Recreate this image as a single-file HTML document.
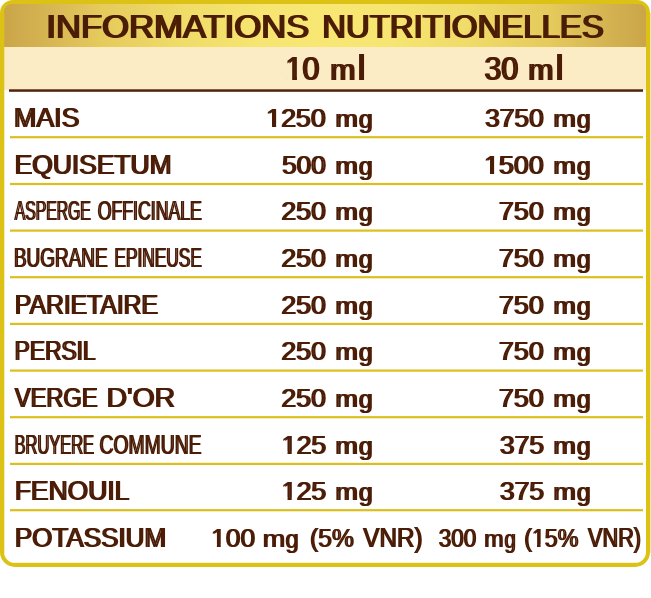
<!DOCTYPE html>
<html lang="fr"><head><meta charset="utf-8"><title>Informations nutritionelles</title>
<style>
html,body{margin:0;padding:0;background:#fff;}
body{width:651px;height:598px;position:relative;overflow:hidden;font-family:"Liberation Sans",sans-serif;}
#frame{position:absolute;left:0;top:0;width:650px;height:567px;background:#dcc215;border-radius:13px 13px 15px 15px;}
#card{position:absolute;left:4px;top:4px;width:642px;height:559px;border-radius:8px 8px 11px 11px;background:linear-gradient(90deg,#c9a448 0%,#d5b452 7%,#e5ca5c 15.4%,#f0dc68 28%,#f6e570 40%,#f8e772 50%,#f6e570 60%,#f0dc68 72%,#e5ca5c 84.6%,#d5b452 93%,#c9a448 100%) -4px 0/650px 43px no-repeat,linear-gradient(#fbecc5,#fbecc5) 0 43px/100% 43px no-repeat,#fff;}
.ln{position:absolute;}
#edge-r{position:absolute;left:650px;top:13px;width:1px;height:540px;background:#f3e6ab;}
#edge-l{position:absolute;left:4px;top:12px;width:1px;height:541px;background:rgba(220,194,21,.3);}
#edge-b{position:absolute;left:14px;top:562px;width:622px;height:1px;background:rgba(220,194,21,.2);}
svg{position:absolute;left:0;top:0;}
text{font-family:"Liberation Sans",sans-serif;font-weight:700;fill:#4b1c06;white-space:pre;}
text[font-weight="400"]{font-weight:400;}
</style></head><body>
<div id="frame"><div id="card"></div></div>
<div id="edge-r"></div><div id="edge-l"></div><div id="edge-b"></div>
<div class="ln" style="left:9px;top:89px;width:634px;height:3px;background:linear-gradient(to bottom,rgba(79,35,14,0.70) 0px 1px,rgba(79,35,14,1.00) 1px 2px,rgba(79,35,14,0.80) 2px 3px)"></div>
<div class="ln" style="left:10px;top:136px;width:633px;height:3px;background:linear-gradient(to bottom,rgba(219,191,28,0.90) 0px 1px,rgba(219,191,28,1.00) 1px 2px,rgba(219,191,28,0.30) 2px 3px)"></div>
<div class="ln" style="left:10px;top:182px;width:633px;height:4px;background:linear-gradient(to bottom,rgba(219,191,28,0.10) 0px 1px,rgba(219,191,28,1.00) 1px 2px,rgba(219,191,28,1.00) 2px 3px,rgba(219,191,28,0.10) 3px 4px)"></div>
<div class="ln" style="left:10px;top:229px;width:633px;height:3px;background:linear-gradient(to bottom,rgba(219,191,28,0.50) 0px 1px,rgba(219,191,28,1.00) 1px 2px,rgba(219,191,28,0.70) 2px 3px)"></div>
<div class="ln" style="left:10px;top:276px;width:633px;height:3px;background:linear-gradient(to bottom,rgba(219,191,28,0.90) 0px 1px,rgba(219,191,28,1.00) 1px 2px,rgba(219,191,28,0.30) 2px 3px)"></div>
<div class="ln" style="left:10px;top:322px;width:633px;height:3px;background:linear-gradient(to bottom,rgba(219,191,28,0.20) 0px 1px,rgba(219,191,28,1.00) 1px 2px,rgba(219,191,28,1.00) 2px 3px)"></div>
<div class="ln" style="left:10px;top:369px;width:633px;height:3px;background:linear-gradient(to bottom,rgba(219,191,28,0.50) 0px 1px,rgba(219,191,28,1.00) 1px 2px,rgba(219,191,28,0.70) 2px 3px)"></div>
<div class="ln" style="left:10px;top:416px;width:633px;height:3px;background:linear-gradient(to bottom,rgba(219,191,28,0.90) 0px 1px,rgba(219,191,28,1.00) 1px 2px,rgba(219,191,28,0.30) 2px 3px)"></div>
<div class="ln" style="left:10px;top:462px;width:633px;height:3px;background:linear-gradient(to bottom,rgba(219,191,28,0.20) 0px 1px,rgba(219,191,28,1.00) 1px 2px,rgba(219,191,28,1.00) 2px 3px)"></div>
<div class="ln" style="left:10px;top:509px;width:633px;height:3px;background:linear-gradient(to bottom,rgba(219,191,28,0.90) 0px 1px,rgba(219,191,28,1.00) 1px 2px,rgba(219,191,28,0.30) 2px 3px)"></div>
<svg width="651" height="598" viewBox="0 0 651 598">
<text transform="translate(45.29 38) scale(1.0364 1.0000)" font-size="33.43" font-weight="400">INFORMATIONS</text>
<text transform="translate(47.49 38) scale(1.0364 1.0000)" font-size="33.43" font-weight="400" aria-hidden="true">INFORMATIONS</text>
<text transform="translate(321.13 38) scale(0.9846 1.0000)" font-size="33.43" font-weight="400">NUTRITIONELLES</text>
<text transform="translate(323.33 38) scale(0.9846 1.0000)" font-size="33.43" font-weight="400" aria-hidden="true">NUTRITIONELLES</text>
<text transform="translate(284.49 80) scale(0.9338 1.0000)" font-size="32.70" font-weight="400">10</text>
<text transform="translate(286.59 80) scale(0.9338 1.0000)" font-size="32.70" font-weight="400" aria-hidden="true">10</text>
<text transform="translate(329.32 80) scale(0.9951 1.0000)" font-size="30.20" font-weight="400">m<tspan x="27.56" font-size="34.40">l</tspan></text>
<text transform="translate(331.42 80) scale(0.9951 1.0000)" font-size="30.20" font-weight="400" aria-hidden="true">m<tspan x="27.56" font-size="34.40">l</tspan></text>
<text transform="translate(483.45 80) scale(0.9265 1.0000)" font-size="32.70" font-weight="400">30</text>
<text transform="translate(485.55 80) scale(0.9265 1.0000)" font-size="32.70" font-weight="400" aria-hidden="true">30</text>
<text transform="translate(527.32 80) scale(0.9951 1.0000)" font-size="30.20" font-weight="400">m<tspan x="27.56" font-size="34.40">l</tspan></text>
<text transform="translate(529.42 80) scale(0.9951 1.0000)" font-size="30.20" font-weight="400" aria-hidden="true">m<tspan x="27.56" font-size="34.40">l</tspan></text>
<text transform="translate(13.11 127) scale(1.0021 1.0000)" font-size="26.74" font-weight="400">MAIS</text>
<text transform="translate(14.91 127) scale(1.0021 1.0000)" font-size="26.74" font-weight="400" aria-hidden="true">MAIS</text>
<text transform="translate(13.74 174) scale(0.9878 1.0000)" font-size="26.74" font-weight="400">EQUISETUM</text>
<text transform="translate(15.54 174) scale(0.9878 1.0000)" font-size="26.74" font-weight="400" aria-hidden="true">EQUISETUM</text>
<text transform="translate(14.00 220) scale(0.5886 1.0000)" font-size="26.74" font-weight="400">ASPERGE</text>
<text transform="translate(15.45 220) scale(0.5886 1.0000)" font-size="26.74" font-weight="400" aria-hidden="true">ASPERGE</text>
<text transform="translate(96.97 220) scale(0.6623 1.0000)" font-size="26.74" font-weight="400">OFFICINALE</text>
<text transform="translate(98.42 220) scale(0.6623 1.0000)" font-size="26.74" font-weight="400" aria-hidden="true">OFFICINALE</text>
<text transform="translate(13.22 267) scale(0.7087 1.0000)" font-size="26.74" font-weight="400">BUGRANE</text>
<text transform="translate(14.67 267) scale(0.7087 1.0000)" font-size="26.74" font-weight="400" aria-hidden="true">BUGRANE</text>
<text transform="translate(113.65 267) scale(0.6479 1.0000)" font-size="26.74" font-weight="400">EPINEUSE</text>
<text transform="translate(115.10 267) scale(0.6479 1.0000)" font-size="26.74" font-weight="400" aria-hidden="true">EPINEUSE</text>
<text transform="translate(14.07 314) scale(0.9227 1.0000)" font-size="26.74" font-weight="400">PARIETAIRE</text>
<text transform="translate(15.87 314) scale(0.9227 1.0000)" font-size="26.74" font-weight="400" aria-hidden="true">PARIETAIRE</text>
<text transform="translate(13.82 360) scale(0.8509 1.0000)" font-size="26.74" font-weight="400">PERSIL</text>
<text transform="translate(15.62 360) scale(0.8509 1.0000)" font-size="26.74" font-weight="400" aria-hidden="true">PERSIL</text>
<text transform="translate(14.00 407) scale(0.8832 1.0000)" font-size="26.74" font-weight="400">VERGE</text>
<text transform="translate(15.80 407) scale(0.8832 1.0000)" font-size="26.74" font-weight="400" aria-hidden="true">VERGE</text>
<text transform="translate(105.78 407) scale(1.0631 1.0000)" font-size="26.74" font-weight="400">D'OR</text>
<text transform="translate(107.58 407) scale(1.0631 1.0000)" font-size="26.74" font-weight="400" aria-hidden="true">D'OR</text>
<text transform="translate(13.92 454) scale(0.6143 1.0000)" font-size="26.74" font-weight="400">BRUYERE</text>
<text transform="translate(15.37 454) scale(0.6143 1.0000)" font-size="26.74" font-weight="400" aria-hidden="true">BRUYERE</text>
<text transform="translate(98.79 454) scale(0.7232 1.0000)" font-size="26.74" font-weight="400">COMMUNE</text>
<text transform="translate(100.24 454) scale(0.7232 1.0000)" font-size="26.74" font-weight="400" aria-hidden="true">COMMUNE</text>
<text transform="translate(13.93 500) scale(0.9889 1.0000)" font-size="26.74" font-weight="400">FENOUIL</text>
<text transform="translate(15.73 500) scale(0.9889 1.0000)" font-size="26.74" font-weight="400" aria-hidden="true">FENOUIL</text>
<text transform="translate(13.97 547) scale(0.9734 1.0000)" font-size="26.74" font-weight="400">POTASSIUM</text>
<text transform="translate(15.77 547) scale(0.9734 1.0000)" font-size="26.74" font-weight="400" aria-hidden="true">POTASSIUM</text>
<text transform="translate(265.22 127) scale(1.0173 1.0000)" font-size="26.40" font-weight="400">1250</text>
<text transform="translate(267.02 127) scale(1.0173 1.0000)" font-size="26.40" font-weight="400" aria-hidden="true">1250</text>
<text transform="translate(334.62 127) scale(1.1096 1.0000)" font-size="24.20" font-weight="400">m<tspan x="21.00" font-size="26.30" dy="1" textLength="12.40" lengthAdjust="spacingAndGlyphs">g</tspan></text>
<text transform="translate(336.42 127) scale(1.1096 1.0000)" font-size="24.20" font-weight="400" aria-hidden="true">m<tspan x="21.00" font-size="26.30" dy="1" textLength="12.40" lengthAdjust="spacingAndGlyphs">g</tspan></text>
<text transform="translate(484.18 127) scale(0.9992 1.0000)" font-size="26.40" font-weight="400">3750</text>
<text transform="translate(485.98 127) scale(0.9992 1.0000)" font-size="26.40" font-weight="400" aria-hidden="true">3750</text>
<text transform="translate(552.62 127) scale(1.1096 1.0000)" font-size="24.20" font-weight="400">m<tspan x="21.00" font-size="26.30" dy="1" textLength="12.40" lengthAdjust="spacingAndGlyphs">g</tspan></text>
<text transform="translate(554.42 127) scale(1.1096 1.0000)" font-size="24.20" font-weight="400" aria-hidden="true">m<tspan x="21.00" font-size="26.30" dy="1" textLength="12.40" lengthAdjust="spacingAndGlyphs">g</tspan></text>
<text transform="translate(281.28 174) scale(0.9914 1.0000)" font-size="26.40" font-weight="400">500</text>
<text transform="translate(283.08 174) scale(0.9914 1.0000)" font-size="26.40" font-weight="400" aria-hidden="true">500</text>
<text transform="translate(334.62 174) scale(1.1096 1.0000)" font-size="24.20" font-weight="400">m<tspan x="21.00" font-size="26.30" dy="1" textLength="12.40" lengthAdjust="spacingAndGlyphs">g</tspan></text>
<text transform="translate(336.42 174) scale(1.1096 1.0000)" font-size="24.20" font-weight="400" aria-hidden="true">m<tspan x="21.00" font-size="26.30" dy="1" textLength="12.40" lengthAdjust="spacingAndGlyphs">g</tspan></text>
<text transform="translate(483.22 174) scale(1.0156 1.0000)" font-size="26.40" font-weight="400">1500</text>
<text transform="translate(485.02 174) scale(1.0156 1.0000)" font-size="26.40" font-weight="400" aria-hidden="true">1500</text>
<text transform="translate(552.62 174) scale(1.1096 1.0000)" font-size="24.20" font-weight="400">m<tspan x="21.00" font-size="26.30" dy="1" textLength="12.40" lengthAdjust="spacingAndGlyphs">g</tspan></text>
<text transform="translate(554.42 174) scale(1.1096 1.0000)" font-size="24.20" font-weight="400" aria-hidden="true">m<tspan x="21.00" font-size="26.30" dy="1" textLength="12.40" lengthAdjust="spacingAndGlyphs">g</tspan></text>
<text transform="translate(280.55 220) scale(1.0082 1.0000)" font-size="26.40" font-weight="400">250</text>
<text transform="translate(282.35 220) scale(1.0082 1.0000)" font-size="26.40" font-weight="400" aria-hidden="true">250</text>
<text transform="translate(334.62 220) scale(1.1096 1.0000)" font-size="24.20" font-weight="400">m<tspan x="21.00" font-size="26.30" dy="1" textLength="12.40" lengthAdjust="spacingAndGlyphs">g</tspan></text>
<text transform="translate(336.42 220) scale(1.1096 1.0000)" font-size="24.20" font-weight="400" aria-hidden="true">m<tspan x="21.00" font-size="26.30" dy="1" textLength="12.40" lengthAdjust="spacingAndGlyphs">g</tspan></text>
<text transform="translate(498.04 220) scale(1.0177 1.0000)" font-size="26.40" font-weight="400">750</text>
<text transform="translate(499.84 220) scale(1.0177 1.0000)" font-size="26.40" font-weight="400" aria-hidden="true">750</text>
<text transform="translate(552.62 220) scale(1.1096 1.0000)" font-size="24.20" font-weight="400">m<tspan x="21.00" font-size="26.30" dy="1" textLength="12.40" lengthAdjust="spacingAndGlyphs">g</tspan></text>
<text transform="translate(554.42 220) scale(1.1096 1.0000)" font-size="24.20" font-weight="400" aria-hidden="true">m<tspan x="21.00" font-size="26.30" dy="1" textLength="12.40" lengthAdjust="spacingAndGlyphs">g</tspan></text>
<text transform="translate(280.55 267) scale(1.0082 1.0000)" font-size="26.40" font-weight="400">250</text>
<text transform="translate(282.35 267) scale(1.0082 1.0000)" font-size="26.40" font-weight="400" aria-hidden="true">250</text>
<text transform="translate(334.62 267) scale(1.1096 1.0000)" font-size="24.20" font-weight="400">m<tspan x="21.00" font-size="26.30" dy="1" textLength="12.40" lengthAdjust="spacingAndGlyphs">g</tspan></text>
<text transform="translate(336.42 267) scale(1.1096 1.0000)" font-size="24.20" font-weight="400" aria-hidden="true">m<tspan x="21.00" font-size="26.30" dy="1" textLength="12.40" lengthAdjust="spacingAndGlyphs">g</tspan></text>
<text transform="translate(498.04 267) scale(1.0177 1.0000)" font-size="26.40" font-weight="400">750</text>
<text transform="translate(499.84 267) scale(1.0177 1.0000)" font-size="26.40" font-weight="400" aria-hidden="true">750</text>
<text transform="translate(552.62 267) scale(1.1096 1.0000)" font-size="24.20" font-weight="400">m<tspan x="21.00" font-size="26.30" dy="1" textLength="12.40" lengthAdjust="spacingAndGlyphs">g</tspan></text>
<text transform="translate(554.42 267) scale(1.1096 1.0000)" font-size="24.20" font-weight="400" aria-hidden="true">m<tspan x="21.00" font-size="26.30" dy="1" textLength="12.40" lengthAdjust="spacingAndGlyphs">g</tspan></text>
<text transform="translate(280.55 314) scale(1.0082 1.0000)" font-size="26.40" font-weight="400">250</text>
<text transform="translate(282.35 314) scale(1.0082 1.0000)" font-size="26.40" font-weight="400" aria-hidden="true">250</text>
<text transform="translate(334.62 314) scale(1.1096 1.0000)" font-size="24.20" font-weight="400">m<tspan x="21.00" font-size="26.30" dy="1" textLength="12.40" lengthAdjust="spacingAndGlyphs">g</tspan></text>
<text transform="translate(336.42 314) scale(1.1096 1.0000)" font-size="24.20" font-weight="400" aria-hidden="true">m<tspan x="21.00" font-size="26.30" dy="1" textLength="12.40" lengthAdjust="spacingAndGlyphs">g</tspan></text>
<text transform="translate(498.04 314) scale(1.0177 1.0000)" font-size="26.40" font-weight="400">750</text>
<text transform="translate(499.84 314) scale(1.0177 1.0000)" font-size="26.40" font-weight="400" aria-hidden="true">750</text>
<text transform="translate(552.62 314) scale(1.1096 1.0000)" font-size="24.20" font-weight="400">m<tspan x="21.00" font-size="26.30" dy="1" textLength="12.40" lengthAdjust="spacingAndGlyphs">g</tspan></text>
<text transform="translate(554.42 314) scale(1.1096 1.0000)" font-size="24.20" font-weight="400" aria-hidden="true">m<tspan x="21.00" font-size="26.30" dy="1" textLength="12.40" lengthAdjust="spacingAndGlyphs">g</tspan></text>
<text transform="translate(280.55 360) scale(1.0082 1.0000)" font-size="26.40" font-weight="400">250</text>
<text transform="translate(282.35 360) scale(1.0082 1.0000)" font-size="26.40" font-weight="400" aria-hidden="true">250</text>
<text transform="translate(334.62 360) scale(1.1096 1.0000)" font-size="24.20" font-weight="400">m<tspan x="21.00" font-size="26.30" dy="1" textLength="12.40" lengthAdjust="spacingAndGlyphs">g</tspan></text>
<text transform="translate(336.42 360) scale(1.1096 1.0000)" font-size="24.20" font-weight="400" aria-hidden="true">m<tspan x="21.00" font-size="26.30" dy="1" textLength="12.40" lengthAdjust="spacingAndGlyphs">g</tspan></text>
<text transform="translate(498.04 360) scale(1.0177 1.0000)" font-size="26.40" font-weight="400">750</text>
<text transform="translate(499.84 360) scale(1.0177 1.0000)" font-size="26.40" font-weight="400" aria-hidden="true">750</text>
<text transform="translate(552.62 360) scale(1.1096 1.0000)" font-size="24.20" font-weight="400">m<tspan x="21.00" font-size="26.30" dy="1" textLength="12.40" lengthAdjust="spacingAndGlyphs">g</tspan></text>
<text transform="translate(554.42 360) scale(1.1096 1.0000)" font-size="24.20" font-weight="400" aria-hidden="true">m<tspan x="21.00" font-size="26.30" dy="1" textLength="12.40" lengthAdjust="spacingAndGlyphs">g</tspan></text>
<text transform="translate(280.55 407) scale(1.0082 1.0000)" font-size="26.40" font-weight="400">250</text>
<text transform="translate(282.35 407) scale(1.0082 1.0000)" font-size="26.40" font-weight="400" aria-hidden="true">250</text>
<text transform="translate(334.62 407) scale(1.1096 1.0000)" font-size="24.20" font-weight="400">m<tspan x="21.00" font-size="26.30" dy="1" textLength="12.40" lengthAdjust="spacingAndGlyphs">g</tspan></text>
<text transform="translate(336.42 407) scale(1.1096 1.0000)" font-size="24.20" font-weight="400" aria-hidden="true">m<tspan x="21.00" font-size="26.30" dy="1" textLength="12.40" lengthAdjust="spacingAndGlyphs">g</tspan></text>
<text transform="translate(498.04 407) scale(1.0177 1.0000)" font-size="26.40" font-weight="400">750</text>
<text transform="translate(499.84 407) scale(1.0177 1.0000)" font-size="26.40" font-weight="400" aria-hidden="true">750</text>
<text transform="translate(552.62 407) scale(1.1096 1.0000)" font-size="24.20" font-weight="400">m<tspan x="21.00" font-size="26.30" dy="1" textLength="12.40" lengthAdjust="spacingAndGlyphs">g</tspan></text>
<text transform="translate(554.42 407) scale(1.1096 1.0000)" font-size="24.20" font-weight="400" aria-hidden="true">m<tspan x="21.00" font-size="26.30" dy="1" textLength="12.40" lengthAdjust="spacingAndGlyphs">g</tspan></text>
<text transform="translate(280.83 454) scale(1.0114 1.0000)" font-size="26.40" font-weight="400">125</text>
<text transform="translate(282.63 454) scale(1.0114 1.0000)" font-size="26.40" font-weight="400" aria-hidden="true">125</text>
<text transform="translate(334.62 454) scale(1.1096 1.0000)" font-size="24.20" font-weight="400">m<tspan x="21.00" font-size="26.30" dy="1" textLength="12.40" lengthAdjust="spacingAndGlyphs">g</tspan></text>
<text transform="translate(336.42 454) scale(1.1096 1.0000)" font-size="24.20" font-weight="400" aria-hidden="true">m<tspan x="21.00" font-size="26.30" dy="1" textLength="12.40" lengthAdjust="spacingAndGlyphs">g</tspan></text>
<text transform="translate(498.97 454) scale(1.0059 1.0000)" font-size="26.40" font-weight="400">375</text>
<text transform="translate(500.77 454) scale(1.0059 1.0000)" font-size="26.40" font-weight="400" aria-hidden="true">375</text>
<text transform="translate(552.62 454) scale(1.1096 1.0000)" font-size="24.20" font-weight="400">m<tspan x="21.00" font-size="26.30" dy="1" textLength="12.40" lengthAdjust="spacingAndGlyphs">g</tspan></text>
<text transform="translate(554.42 454) scale(1.1096 1.0000)" font-size="24.20" font-weight="400" aria-hidden="true">m<tspan x="21.00" font-size="26.30" dy="1" textLength="12.40" lengthAdjust="spacingAndGlyphs">g</tspan></text>
<text transform="translate(280.83 500) scale(1.0114 1.0000)" font-size="26.40" font-weight="400">125</text>
<text transform="translate(282.63 500) scale(1.0114 1.0000)" font-size="26.40" font-weight="400" aria-hidden="true">125</text>
<text transform="translate(334.62 500) scale(1.1096 1.0000)" font-size="24.20" font-weight="400">m<tspan x="21.00" font-size="26.30" dy="1" textLength="12.40" lengthAdjust="spacingAndGlyphs">g</tspan></text>
<text transform="translate(336.42 500) scale(1.1096 1.0000)" font-size="24.20" font-weight="400" aria-hidden="true">m<tspan x="21.00" font-size="26.30" dy="1" textLength="12.40" lengthAdjust="spacingAndGlyphs">g</tspan></text>
<text transform="translate(498.97 500) scale(1.0059 1.0000)" font-size="26.40" font-weight="400">375</text>
<text transform="translate(500.77 500) scale(1.0059 1.0000)" font-size="26.40" font-weight="400" aria-hidden="true">375</text>
<text transform="translate(552.62 500) scale(1.1096 1.0000)" font-size="24.20" font-weight="400">m<tspan x="21.00" font-size="26.30" dy="1" textLength="12.40" lengthAdjust="spacingAndGlyphs">g</tspan></text>
<text transform="translate(554.42 500) scale(1.1096 1.0000)" font-size="24.20" font-weight="400" aria-hidden="true">m<tspan x="21.00" font-size="26.30" dy="1" textLength="12.40" lengthAdjust="spacingAndGlyphs">g</tspan></text>
<text transform="translate(210.24 547) scale(1.0038 1.0000)" font-size="26.40" font-weight="400">100</text>
<text transform="translate(211.74 547) scale(1.0038 1.0000)" font-size="26.40" font-weight="400" aria-hidden="true">100</text>
<text transform="translate(261.91 547) scale(1.1153 1.0000)" font-size="24.20" font-weight="400">m<tspan x="20.39" font-size="26.30" dy="1" textLength="11.81" lengthAdjust="spacingAndGlyphs">g</tspan></text>
<text transform="translate(263.41 547) scale(1.1153 1.0000)" font-size="24.20" font-weight="400" aria-hidden="true">m<tspan x="20.39" font-size="26.30" dy="1" textLength="11.81" lengthAdjust="spacingAndGlyphs">g</tspan></text>
<text transform="translate(309.35 547) scale(0.9327 1.0000)" font-size="26.40" font-weight="400">(5%</text>
<text transform="translate(310.85 547) scale(0.9327 1.0000)" font-size="26.40" font-weight="400" aria-hidden="true">(5%</text>
<text transform="translate(362.50 547) scale(0.9080 1.0000)" font-size="26.74" font-weight="400">VNR)</text>
<text transform="translate(364.00 547) scale(0.9080 1.0000)" font-size="26.74" font-weight="400" aria-hidden="true">VNR)</text>
<text transform="translate(438.10 547) scale(0.8528 1.0000)" font-size="26.40" font-weight="400">300</text>
<text transform="translate(439.60 547) scale(0.8528 1.0000)" font-size="26.40" font-weight="400" aria-hidden="true">300</text>
<text transform="translate(483.55 547) scale(0.9601 1.0000)" font-size="24.20" font-weight="400">m<tspan x="21.06" font-size="26.30" dy="1" textLength="11.74" lengthAdjust="spacingAndGlyphs">g</tspan></text>
<text transform="translate(485.05 547) scale(0.9601 1.0000)" font-size="24.20" font-weight="400" aria-hidden="true">m<tspan x="21.06" font-size="26.30" dy="1" textLength="11.74" lengthAdjust="spacingAndGlyphs">g</tspan></text>
<text transform="translate(523.41 547) scale(0.8825 1.0000)" font-size="26.40" font-weight="400">(15%</text>
<text transform="translate(524.91 547) scale(0.8825 1.0000)" font-size="26.40" font-weight="400" aria-hidden="true">(15%</text>
<text transform="translate(587.20 547) scale(0.8127 1.0000)" font-size="26.74" font-weight="400">VNR)</text>
<text transform="translate(588.70 547) scale(0.8127 1.0000)" font-size="26.74" font-weight="400" aria-hidden="true">VNR)</text>
<rect x="286.13" y="76.96" width="6.04" height="3.64" fill="#fbecc5"/>
<rect x="296.97" y="76.96" width="5.80" height="3.64" fill="#fbecc5"/>
<rect x="266.59" y="124.43" width="5.39" height="3.17" fill="#fff"/>
<rect x="276.15" y="124.43" width="5.18" height="3.17" fill="#fff"/>
<rect x="484.59" y="171.43" width="5.38" height="3.17" fill="#fff"/>
<rect x="494.14" y="171.43" width="5.17" height="3.17" fill="#fff"/>
<rect x="282.19" y="451.43" width="5.36" height="3.17" fill="#fff"/>
<rect x="291.71" y="451.43" width="5.15" height="3.17" fill="#fff"/>
<rect x="282.19" y="497.43" width="5.36" height="3.17" fill="#fff"/>
<rect x="291.71" y="497.43" width="5.15" height="3.17" fill="#fff"/>
<rect x="211.58" y="544.43" width="5.32" height="3.17" fill="#fff"/>
<rect x="220.75" y="544.43" width="5.12" height="3.17" fill="#fff"/>
<rect x="532.27" y="544.43" width="4.75" height="3.17" fill="#fff"/>
<rect x="540.58" y="544.43" width="4.57" height="3.17" fill="#fff"/>
</svg>
</body></html>
